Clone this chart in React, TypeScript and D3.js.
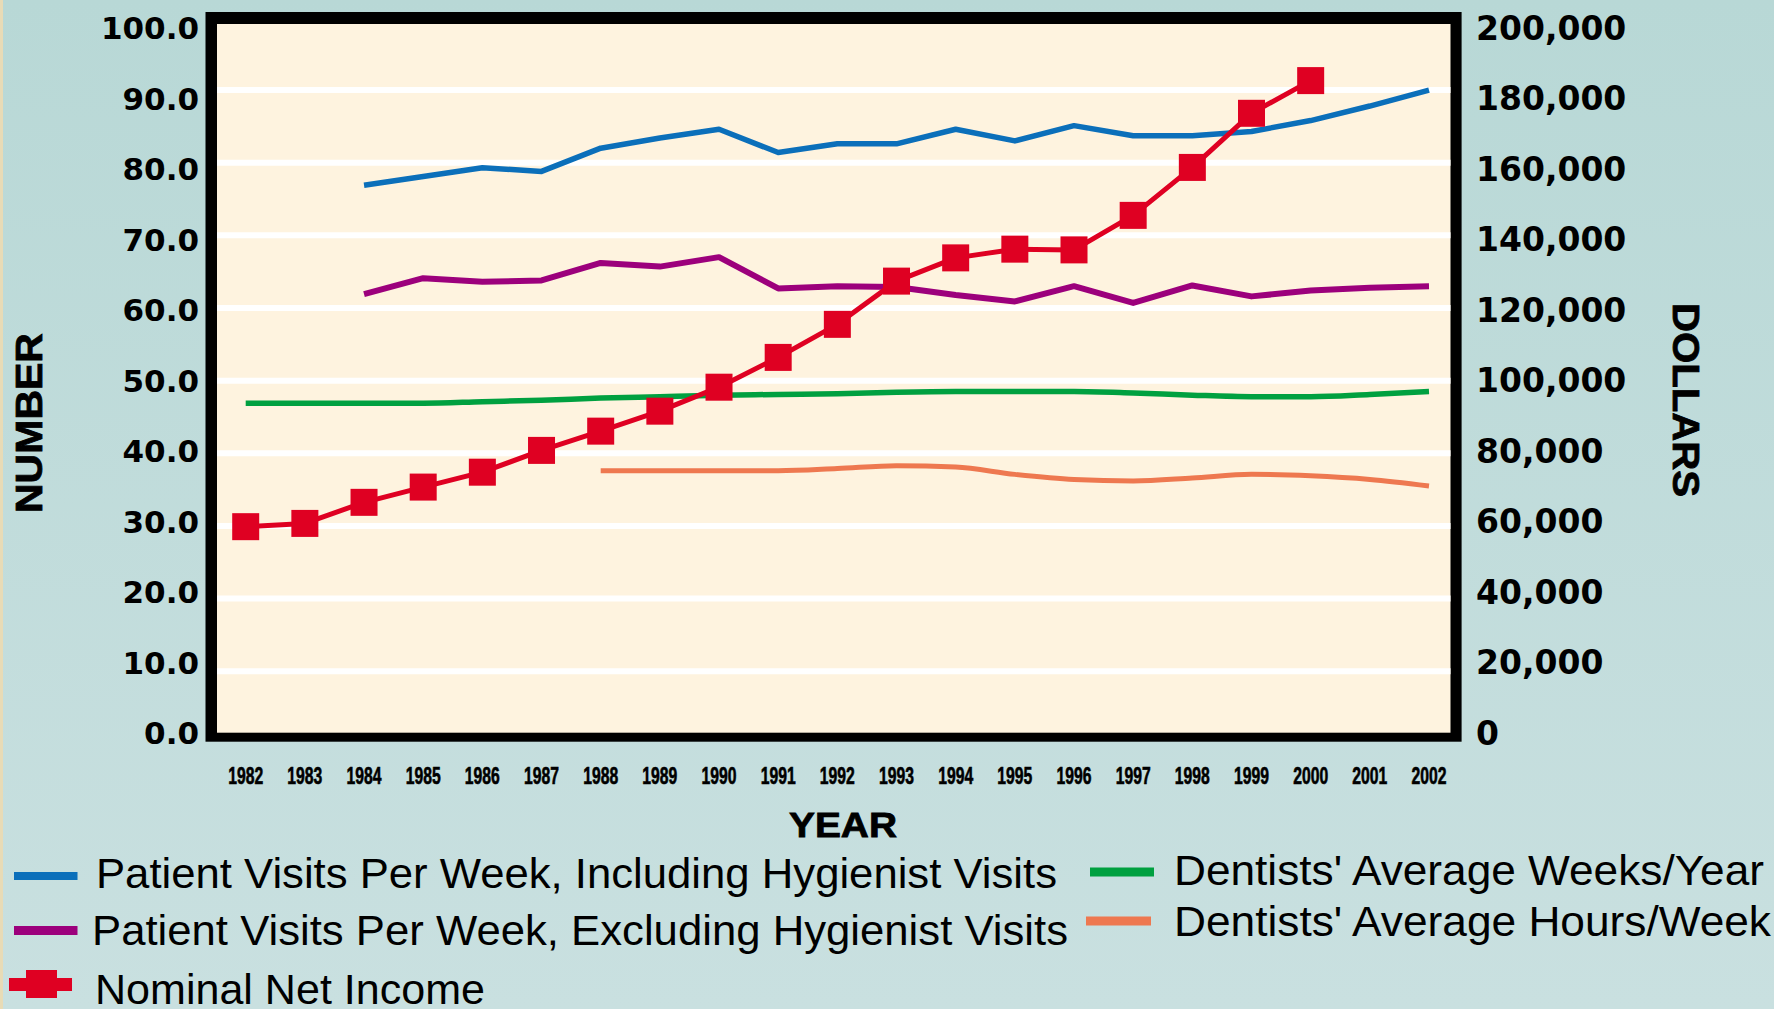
import React from "react";
import * as d3 from "d3";

const years = [1982, 1983, 1984, 1985, 1986, 1987, 1988, 1989, 1990, 1991, 1992, 1993, 1994, 1995, 1996, 1997, 1998, 1999, 2000, 2001, 2002];
const incomeYears = [1982, 1983, 1984, 1985, 1986, 1987, 1988, 1989, 1990, 1991, 1992, 1993, 1994, 1995, 1996, 1997, 1998, 1999, 2000];
const netIncome = [59800, 60700, 66500, 70700, 74800, 80800, 86100, 91600, 98200, 106400, 115500, 127400, 133800, 136200, 136000, 145500, 158700, 173600, 182600];
const visitYears = [1984, 1985, 1986, 1987, 1988, 1989, 1990, 1991, 1992, 1993, 1994, 1995, 1996, 1997, 1998, 1999, 2000, 2001, 2002];
const visitsIncl = [76.9, 78.1, 79.3, 78.8, 82.0, 83.4, 84.6, 81.4, 82.6, 82.6, 84.6, 83.0, 85.1, 83.7, 83.7, 84.3, 85.8, 87.8, 90.0];
const visitsExcl = [61.9, 64.1, 63.6, 63.8, 66.2, 65.7, 67.0, 62.7, 63.0, 62.9, 61.8, 60.9, 63.0, 60.7, 63.1, 61.6, 62.4, 62.8, 63.0];
const weeksYear = [46.9, 46.9, 46.9, 46.9, 47.1, 47.3, 47.6, 47.8, 48.0, 48.1, 48.2, 48.4, 48.5, 48.5, 48.5, 48.3, 48.0, 47.8, 47.8, 48.1, 48.5];
const hoursYears = [1988, 1989, 1990, 1991, 1992, 1993, 1994, 1995, 1996, 1997, 1998, 1999, 2000, 2001, 2002];
const hoursWeek = [37.6, 37.6, 37.6, 37.6, 37.9, 38.3, 38.1, 37.1, 36.4, 36.2, 36.6, 37.1, 36.9, 36.4, 35.5];
const leftTicks = [0, 10, 20, 30, 40, 50, 60, 70, 80, 90, 100];
const rightTicks = [0, 20000, 40000, 60000, 80000, 100000, 120000, 140000, 160000, 180000, 200000];
const gridValues = [10, 20, 30, 40, 50, 60, 70, 80, 90];

const legendLabels = {
  incl: "Patient Visits Per Week, Including Hygienist Visits",
  excl: "Patient Visits Per Week, Excluding Hygienist Visits",
  income: "Nominal Net Income",
  weeks: "Dentists' Average Weeks/Year",
  hours: "Dentists' Average Hours/Week",
};

const COLORS = {
  blue: "#0B6FBA",
  purple: "#9C007C",
  green: "#00A040",
  orange: "#EE7850",
  red: "#DF0022",
};

const W = 1774;
const H = 1009;
const inner = { left: 217, right: 1450.5, top: 24, bottom: 732.7 };

export default function App() {
  const x = d3.scaleLinear().domain([1982, 2002]).range([245.7, 1429]);
  const y = d3.scaleLinear().domain([0, 100]).range([743.9, 17.4]);
  const yDollar = d3.scaleLinear().domain([0, 200000]).range([743.9, 17.4]);
  const yLabel = d3.scaleLinear().domain([0, 100]).range([733, 28]);
  const yDollarLabel = d3.scaleLinear().domain([0, 200000]).range([733, 28]);

  const lineLin = d3.line<[number, number]>().x((d) => x(d[0])).y((d) => y(d[1]));
  const lineSmooth = d3
    .line<[number, number]>()
    .x((d) => x(d[0]))
    .y((d) => y(d[1]))
    .curve(d3.curveMonotoneX);
  const lineIncome = d3
    .line<[number, number]>()
    .x((d) => x(d[0]))
    .y((d) => yDollar(d[1]));

  const zip = (a: number[], b: number[]) => a.map((v, i) => [v, b[i]] as [number, number]);

  const fmtLeft = d3.format(".1f");
  const fmtRight = d3.format(",");

  const tickFont = "'DejaVu Sans', Verdana, sans-serif";
  const legendFont = "'Liberation Sans Narrow', 'Arial Narrow', 'Liberation Sans', Arial, sans-serif";

  return (
    <svg
      width={W}
      height={H}
      viewBox={`0 0 ${W} ${H}`}
      style={{ position: "absolute", left: 0, top: 0, display: "block" }}
    >
      <defs>
        <linearGradient id="bg" x1="0" y1="0" x2="0" y2="1">
          <stop offset="0" stopColor="#B8D8D6" />
          <stop offset="1" stopColor="#C9E0E0" />
        </linearGradient>
        <clipPath id="plotClip">
          <rect x={inner.left} y={inner.top} width={inner.right - inner.left} height={inner.bottom - inner.top} />
        </clipPath>
      </defs>
      <rect x={0} y={0} width={W} height={H} fill="url(#bg)" />
      <rect x={0} y={0} width={3} height={H} fill="#E8DBB6" />

      {/* frame */}
      <rect x={205.5} y={12} width={1461.6 - 205.5} height={741.7 - 12} fill="#000" />
      <rect
        x={inner.left}
        y={inner.top}
        width={inner.right - inner.left}
        height={inner.bottom - inner.top}
        fill="#FEF3DF"
      />

      {/* gridlines */}
      {gridValues.map((v) => (
        <line key={v} x1={inner.left} x2={inner.right} y1={y(v)} y2={y(v)} stroke="#FFFFFF" strokeWidth={6} />
      ))}

      <g clipPath="url(#plotClip)" fill="none" strokeLinejoin="round" strokeLinecap="butt">
        <path d={lineSmooth(zip(hoursYears, hoursWeek)) || ""} stroke={COLORS.orange} strokeWidth={5} />
        <path d={lineSmooth(zip(years, weeksYear)) || ""} stroke={COLORS.green} strokeWidth={5.5} />
        <path d={lineLin(zip(visitYears, visitsExcl)) || ""} stroke={COLORS.purple} strokeWidth={6} />
        <path d={lineLin(zip(visitYears, visitsIncl)) || ""} stroke={COLORS.blue} strokeWidth={5.5} />
        <path d={lineIncome(zip(incomeYears, netIncome)) || ""} stroke={COLORS.red} strokeWidth={5} />
        {incomeYears.map((yr, i) => (
          <rect
            key={yr}
            x={x(yr) - 13.5}
            y={yDollar(netIncome[i]) - 13.5}
            width={27}
            height={27}
            fill={COLORS.red}
          />
        ))}
      </g>

      {/* left axis labels */}
      {leftTicks.map((v) => (
        <text
          key={v}
          x={199}
          y={yLabel(v)}
          dy="0.36em"
          textAnchor="end"
          fontFamily={tickFont}
          fontWeight="bold"
          fontSize={31}
          fill="#000"
        >
          {fmtLeft(v)}
        </text>
      ))}

      {/* right axis labels */}
      {rightTicks.map((v) => (
        <text
          key={v}
          x={1476}
          y={yDollarLabel(v)}
          dy="0.36em"
          textAnchor="start"
          fontFamily={tickFont}
          fontWeight="bold"
          fontSize={33}
          fill="#000"
        >
          {fmtRight(v)}
        </text>
      ))}

      {/* year labels */}
      {years.map((yr) => (
        <text
          key={yr}
          x={x(yr)}
          y={784}
          textAnchor="middle"
          fontFamily="'Liberation Sans', Arial, sans-serif"
          fontWeight="bold"
          fontSize={23}
          textLength={35}
          lengthAdjust="spacingAndGlyphs"
          fill="#000"
          stroke="#000"
          strokeWidth={0.6}
        >
          {yr}
        </text>
      ))}

      {/* axis titles */}
      <text
        x={843}
        y={837}
        textAnchor="middle"
        fontFamily="'Liberation Sans', Arial, sans-serif"
        fontWeight="bold"
        fontSize={35}
        textLength={108}
        lengthAdjust="spacingAndGlyphs"
        fill="#000"
        stroke="#000"
        strokeWidth={0.8}
      >
        YEAR
      </text>
      <text
        transform="translate(42,423) rotate(-90)"
        textAnchor="middle"
        fontFamily="'Liberation Sans', Arial, sans-serif"
        fontWeight="bold"
        fontSize={37}
        textLength={180}
        lengthAdjust="spacingAndGlyphs"
        fill="#000"
        stroke="#000"
        strokeWidth={0.8}
      >
        NUMBER
      </text>
      <text
        transform="translate(1673,400) rotate(90)"
        textAnchor="middle"
        fontFamily="'Liberation Sans', Arial, sans-serif"
        fontWeight="bold"
        fontSize={37}
        textLength={194}
        lengthAdjust="spacingAndGlyphs"
        fill="#000"
        stroke="#000"
        strokeWidth={0.8}
      >
        DOLLARS
      </text>

      {/* legend */}
      <g fontFamily={legendFont} fontSize={43} fill="#000">
        <line x1={14} x2={77.5} y1={876} y2={876} stroke={COLORS.blue} strokeWidth={8} />
        <text x={96} y={888} textLength={961} lengthAdjust="spacingAndGlyphs">
          {legendLabels.incl}
        </text>
        <line x1={14} x2={77.5} y1={930.5} y2={930.5} stroke={COLORS.purple} strokeWidth={9} />
        <text x={92} y={945} textLength={976} lengthAdjust="spacingAndGlyphs">
          {legendLabels.excl}
        </text>
        <line x1={9} x2={72} y1={984.5} y2={984.5} stroke={COLORS.red} strokeWidth={13} />
        <rect x={26} y={970} width={31} height={28} fill={COLORS.red} />
        <text x={95} y={1004} textLength={390} lengthAdjust="spacingAndGlyphs">
          {legendLabels.income}
        </text>
        <line x1={1090} x2={1154} y1={872} y2={872} stroke={COLORS.green} strokeWidth={9} />
        <text x={1174} y={885} textLength={590} lengthAdjust="spacingAndGlyphs">
          {legendLabels.weeks}
        </text>
        <line x1={1086} x2={1151} y1={921} y2={921} stroke={COLORS.orange} strokeWidth={9} />
        <text x={1174} y={936} textLength={597} lengthAdjust="spacingAndGlyphs">
          {legendLabels.hours}
        </text>
      </g>
    </svg>
  );
}
